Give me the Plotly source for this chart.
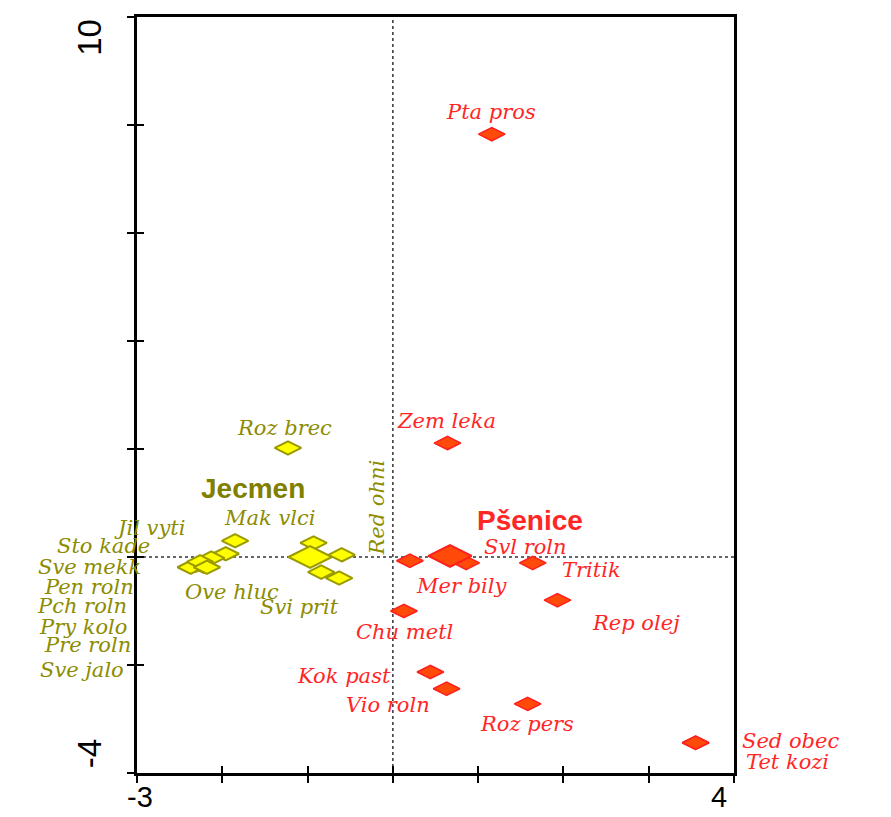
import plotly.graph_objects as go

# Species scores on the first two ordination axes, grouped by crop
psenice_species = ["Pta pros", "Zem leka", "Mer bily", "Svl roln", "Tritik", "Rep olej",
                   "Chu metl", "Kok past", "Vio roln", "Roz pers", "Sed obec", "Tet kozi"]
psenice_ax1 = [1.16, 0.64, 0.20, 0.86, 1.64, 1.93, 0.13, 0.44, 0.63, 1.58, 3.55, 3.55]
psenice_ax2 = [7.83, 2.11, -0.07, -0.11, -0.11, -0.80, -1.00, -2.13, -2.44, -2.72, -3.44, -3.44]

jecmen_species = ["Roz brec", "Mak vlci", "Red ohni", "Ove hluc", "Svi prit", "Jil vyti",
                  "Sto kade", "Sve mekk", "Pen roln", "Pch roln", "Pry kolo", "Pre roln", "Sve jalo"]
jecmen_ax1 = [-1.23, -0.93, -0.60, -0.84, -0.63, -1.85, -1.96, -2.13, -2.22, -2.31, -2.37, -2.26, -2.18]
jecmen_ax2 = [2.02, 0.26, 0.04, -0.28, -0.39, 0.30, 0.06, -0.02, -0.17, -0.15, -0.19, -0.09, -0.19]

# Class centroids
classes = ["Jecmen", "Pšenice"]
class_ax1 = [-0.97, 0.67]
class_ax2 = [0.00, 0.02]

x_ticks = [-3, -2, -1, 0, 1, 2, 3, 4]
y_ticks = [-4, -2, 0, 2, 4, 6, 8, 10]
x_range = [-3, 4]
y_range = [-4, 10]

RED_TXT = "#FF2626"
RED_FILL = "#FF4A0A"
RED_LINE = "#FF1E1E"
OLIVE_TXT = "#8C8C00"
OLIVE_BOLD = "#808000"
YEL_FILL = "#FFFF00"
YEL_LINE = "#9A9A00"

# label placement: (xshift px, yshift px, anchor, angle)
label_place = {
    "Pta pros": (-1, 22, "center", 0), "Zem leka": (-1, 22, "center", 0),
    "Mer bily": (52, -25, "center", 0), "Svl roln": (59, 16, "center", 0),
    "Tritik": (59, -7, "center", 0), "Rep olej": (79, -23, "center", 0),
    "Chu metl": (1, -21, "center", 0), "Kok past": (-86, -4, "center", 0),
    "Vio roln": (-59, -16, "center", 0), "Roz pers": (-1, -20, "center", 0),
    "Sed obec": (45, 2, "left", 0), "Tet kozi": (49, -19, "left", 0),
    "Roz brec": (-3, 20, "center", 0), "Mak vlci": (-44, 25, "center", 0),
    "Red ohni": (35, 47, "center", -90), "Ove hluc": (-89, -20, "center", 0),
    "Svi prit": (-40, -29, "center", 0), "Jil vyti": (-86, 13, "center", 0),
    "Sto kade": (-122, 8, "center", 0), "Sve mekk": (-122, -9, "center", 0),
    "Pen roln": (-115, -21, "center", 0), "Pch roln": (-114, -41, "center", 0),
    "Pry kolo": (-108, -60, "center", 0), "Pre roln": (-113, -83, "center", 0),
    "Sve jalo": (-125, -103, "center", 0),
}
class_place = {"Jecmen": (-57, 69), "Pšenice": (80, 35)}

fig = go.Figure()

fig.add_trace(go.Scatter(
    x=jecmen_ax1, y=jecmen_ax2, mode="markers", text=jecmen_species,
    marker=dict(symbol="diamond-wide", size=19, color=YEL_FILL,
                line=dict(color=YEL_LINE, width=2)),
    showlegend=False, hoverinfo="text"))
fig.add_trace(go.Scatter(
    x=psenice_ax1, y=psenice_ax2, mode="markers", text=psenice_species,
    marker=dict(symbol="diamond-wide", size=19, color=RED_FILL,
                line=dict(color=RED_LINE, width=1.5)),
    showlegend=False, hoverinfo="text"))
# centroids on the overlay axes so they sit on top, and the overlay axes carry the inner ticks
fig.add_trace(go.Scatter(
    x=class_ax1, y=class_ax2, mode="markers", text=classes,
    marker=dict(symbol="diamond-wide", size=31, color=[YEL_FILL, RED_FILL],
                line=dict(color=[YEL_LINE, RED_LINE], width=2)),
    xaxis="x2", yaxis="y2", showlegend=False, hoverinfo="text"))

annotations = []
for names, xs, ys, col in [(psenice_species, psenice_ax1, psenice_ax2, RED_TXT),
                           (jecmen_species, jecmen_ax1, jecmen_ax2, OLIVE_TXT)]:
    for n, x, y in zip(names, xs, ys):
        dx, dy, anc, ang = label_place[n]
        annotations.append(dict(
            x=x, y=y, xref="x", yref="y", text=n, showarrow=False,
            xshift=dx, yshift=dy, xanchor=anc, yanchor="middle", textangle=ang,
            borderpad=0,
            font=dict(family="DejaVu Serif", size=21, style="italic", color=col)))

for n, x, y, col in zip(classes, class_ax1, class_ax2, [OLIVE_BOLD, RED_TXT]):
    dx, dy = class_place[n]
    annotations.append(dict(
        x=x, y=y, xref="x", yref="y", text=f"<b>{n}</b>", showarrow=False,
        xshift=dx, yshift=dy, xanchor="center", yanchor="middle",
        font=dict(family="Liberation Sans, Arial", size=28, color=col)))

# end tick labels
tick_font_x = dict(family="Liberation Sans, Arial", size=29, color="black")
tick_font_y = dict(family="Liberation Sans, Arial", size=33, color="black")
annotations += [
    dict(x=-2.965, y=-0.0315, xref="x", yref="paper", text=str(x_ticks[0]), showarrow=False,
         xanchor="center", yanchor="middle", borderpad=0, font=tick_font_x),
    dict(x=3.82, y=-0.0315, xref="x", yref="paper", text=str(x_ticks[-1]), showarrow=False,
         xanchor="center", yanchor="middle", borderpad=0, font=tick_font_x),
    dict(x=-0.079, y=9.63, xref="paper", yref="y", text=str(y_ticks[-1]), showarrow=False,
         xanchor="center", yanchor="middle", textangle=-90, font=tick_font_y),
    dict(x=-0.080, y=-3.65, xref="paper", yref="y", text=str(y_ticks[0]), showarrow=False,
         xanchor="center", yanchor="middle", textangle=-90, font=tick_font_y),
]

shapes = [
    dict(type="line", xref="x", yref="paper", x0=0, x1=0, y0=0, y1=1, layer="below",
         line=dict(color="#333333", width=1.5, dash="dot")),
    dict(type="line", xref="paper", yref="y", x0=0, x1=1, y0=0, y1=0, layer="below",
         line=dict(color="#333333", width=1.5, dash="dot")),
]

axis_common = dict(showgrid=False, zeroline=False, showticklabels=False,
                   tickcolor="black", tickwidth=2, ticklen=7)

fig.update_layout(
    width=891, height=817,
    margin=dict(l=137, r=157, t=17, b=44),
    paper_bgcolor="white", plot_bgcolor="white",
    xaxis=dict(range=x_range, tickvals=x_ticks, ticks="outside",
               showline=True, linecolor="black", linewidth=3, mirror=True, **axis_common),
    yaxis=dict(range=y_range, tickvals=y_ticks, ticks="outside",
               showline=True, linecolor="black", linewidth=3, mirror=True, **axis_common),
    xaxis2=dict(range=x_range, tickvals=x_ticks, ticks="inside", overlaying="x",
                anchor="y2", side="bottom", showline=False, **axis_common),
    yaxis2=dict(range=y_range, tickvals=y_ticks, ticks="inside", overlaying="y",
                anchor="x2", side="left", showline=False, **axis_common),
    annotations=annotations,
    shapes=shapes,
)

fig.write_html("out.html")
